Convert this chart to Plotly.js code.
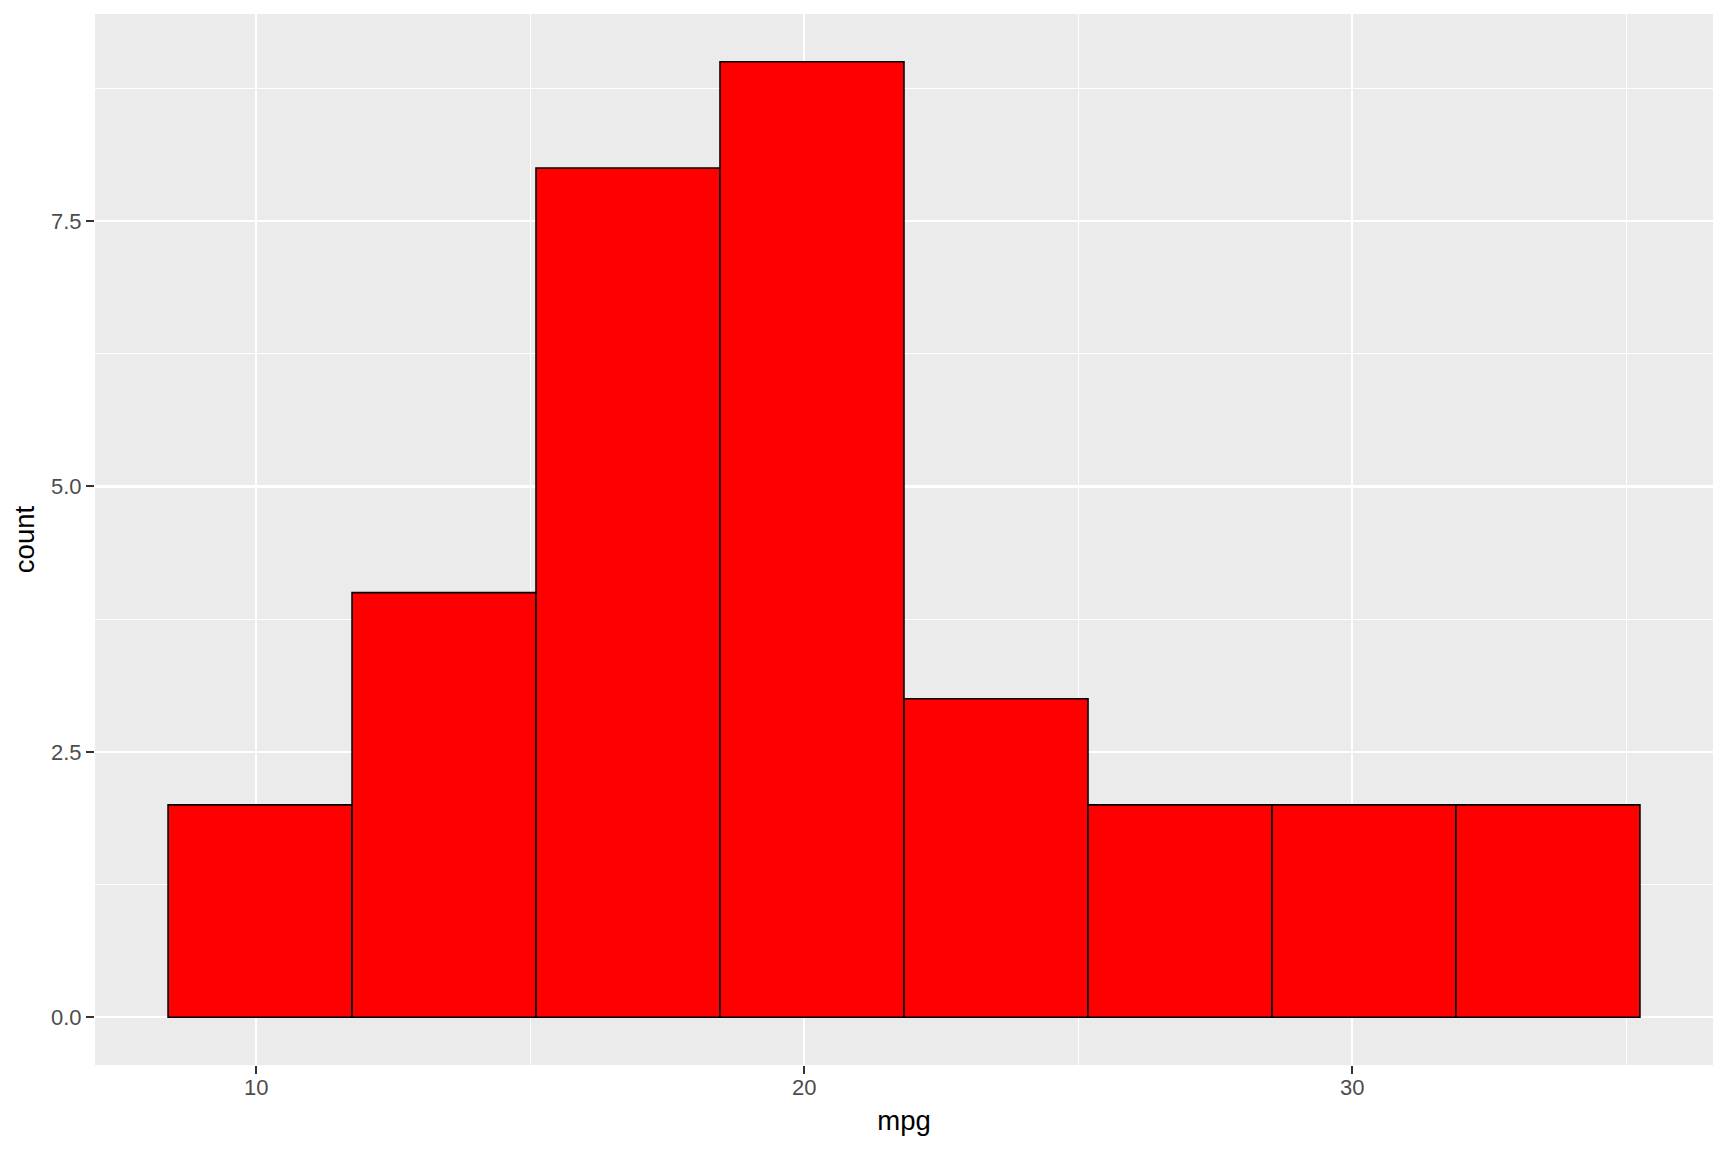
<!DOCTYPE html>
<html>
<head>
<meta charset="utf-8">
<script src="https://cdn.plot.ly/plotly-3.0.1.min.js"></script>
<style>html,body{margin:0;padding:0;background:#fff;}#chart{width:1728px;height:1152px;}</style>
</head>
<body>
<div id="chart"></div>
<script>
// histogram of mtcars mpg, 8 bins (ggplot2 default breaks)
const binStart = [8.393, 11.750, 15.107, 18.464, 21.821, 25.179, 28.536, 31.893];
const binEnd   = [11.750, 15.107, 18.464, 21.821, 25.179, 28.536, 31.893, 35.250];
const counts   = [2, 4, 8, 9, 3, 2, 2, 2];
const xTicks = [10, 20, 30];
const yTicks = [0, 2.5, 5, 7.5];
const yTickLabels = ['0.0', '2.5', '5.0', '7.5'];

const centers = binStart.map((s, i) => (s + binEnd[i]) / 2);
const widths = binStart.map((s, i) => binEnd[i] - s);

const trace = {
  type: 'bar',
  x: centers,
  y: counts,
  width: widths,
  marker: {color: '#FF0000', line: {color: '#000000', width: 1.6}},
  hoverinfo: 'x+y'
};

const font = {family: 'Liberation Sans, Arial, sans-serif'};
const layout = {
  width: 1728, height: 1152,
  margin: {l: 95, r: 15, t: 14, b: 87},
  paper_bgcolor: '#ffffff',
  plot_bgcolor: '#EBEBEB',
  showlegend: false,
  bargap: 0,
  font: font,
  xaxis: {
    range: [7.0596, 36.5834],
    tickvals: xTicks, ticktext: xTicks.map(String),
    ticks: 'outside', ticklen: 8, tickwidth: 2, tickcolor: '#333333',
    ticklabelstandoff: -5,
    tickfont: {family: font.family, size: 22, color: '#4D4D4D'},
    showgrid: true, gridcolor: '#FFFFFF', gridwidth: 2.2,
    minor: {dtick: 5, tick0: 0, showgrid: true, gridcolor: '#FFFFFF', gridwidth: 1.1, ticks: ''},
    zeroline: false, showline: false,
    title: {text: 'mpg', font: {family: font.family, size: 27.5, color: '#000000'}, standoff: 11}
  },
  yaxis: {
    range: [-0.45, 9.45],
    tickvals: yTicks, ticktext: yTickLabels,
    ticks: 'outside', ticklen: 8, tickwidth: 2, tickcolor: '#333333',
    tickfont: {family: font.family, size: 22, color: '#4D4D4D'},
    showgrid: true, gridcolor: '#FFFFFF', gridwidth: 2.2,
    minor: {dtick: 1.25, tick0: 0, showgrid: true, gridcolor: '#FFFFFF', gridwidth: 1.1, ticks: ''},
    zeroline: false, showline: false,
    title: {text: 'count', font: {family: font.family, size: 27.5, color: '#000000'}, standoff: 8}
  }
};

Plotly.newPlot('chart', [trace], layout, {displayModeBar: false, staticPlot: true});
</script>
</body>
</html>
